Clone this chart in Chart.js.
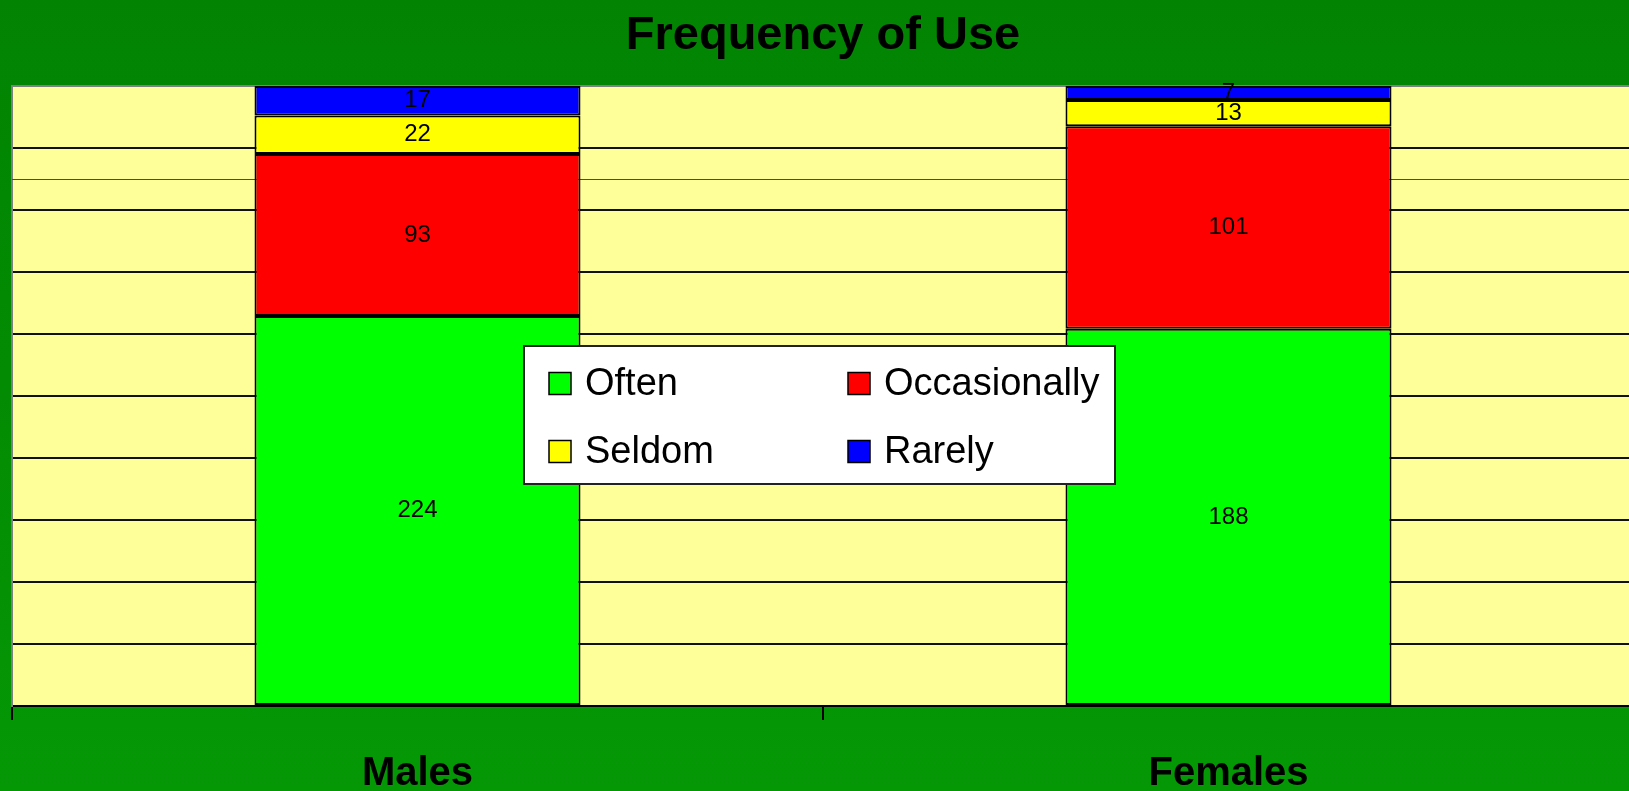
<!DOCTYPE html>
<html>
<head>
<meta charset="utf-8">
<script src="https://cdn.jsdelivr.net/npm/chart.js@4"></script>
<style>
  html, body { margin: 0; padding: 0; overflow: hidden; width: 1629px; height: 791px; }
  body { background: linear-gradient(to bottom, rgb(2,132,2) 0%, rgb(3,140,3) 50%, rgb(5,152,5) 100%); }
  #wrap { width: 1646px; height: 791px; position: relative; }
  canvas { display: block; }
</style>
</head>
<body>
<div id="wrap"><canvas id="c" width="1646" height="791"></canvas></div>
<script>
const categories = ['Males', 'Females'];
const seriesNames = ['Often', 'Occasionally', 'Seldom', 'Rarely'];
const often = [224, 188];
const occasionally = [93, 101];
const seldom = [22, 13];
const rarely = [17, 7];
const yTicks = [0, 10, 20, 30, 40, 50, 60, 70, 80, 90, 100];

const counts = [often, occasionally, seldom, rarely];
const colors = ['#00FF00', '#FF0000', '#FFFF00', '#0000FF'];
const totals = categories.map((_, j) => counts.reduce((s, arr) => s + arr[j], 0));
const pct = arr => arr.map((v, j) => v / totals[j] * 100);

const FONT = "'Liberation Sans', Arial, Helvetica, sans-serif";

const plotBg = {
  id: 'plotBg',
  beforeDraw(chart) {
    const {ctx, chartArea: a} = chart;
    ctx.save();
    ctx.fillStyle = '#FFFF99';
    ctx.fillRect(a.left, a.top, a.right - a.left, a.bottom - a.top);
    ctx.restore();
  },
  beforeDatasetsDraw(chart) {
    const {ctx, chartArea: a, scales} = chart;
    const y = Math.round(scales.y.getPixelForValue(85)) + 0.5;
    ctx.save();
    ctx.strokeStyle = '#008000';
    ctx.lineWidth = 1;
    ctx.beginPath();
    ctx.moveTo(a.left, y);
    ctx.lineTo(a.right, y);
    ctx.stroke();
    ctx.restore();
  }
};

const valueLabels = {
  id: 'valueLabels',
  afterDatasetsDraw(chart) {
    const {ctx} = chart;
    ctx.save();
    ctx.font = '24px ' + FONT;
    ctx.fillStyle = '#000';
    ctx.textAlign = 'center';
    ctx.textBaseline = 'middle';
    chart.data.datasets.forEach((ds, i) => {
      const meta = chart.getDatasetMeta(i);
      meta.data.forEach((bar, j) => {
        const p = bar.getCenterPoint();
        ctx.fillText(String(ds.raw[j]), p.x, p.y);
      });
    });
    ctx.restore();
  }
};

const boxLegend = {
  id: 'boxLegend',
  afterDraw(chart) {
    const {ctx} = chart;
    const bx = 524, by = 346, bw = 591, bh = 138;
    ctx.save();
    ctx.fillStyle = '#FFFFFF';
    ctx.fillRect(bx, by, bw, bh);
    ctx.strokeStyle = '#222';
    ctx.lineWidth = 2;
    ctx.strokeRect(bx, by, bw, bh);
    const cols = [549, 848];
    const rows = [383.5, 451.5];
    chart.data.datasets.forEach((ds, i) => {
      const cx = cols[i % 2];
      const cy = rows[Math.floor(i / 2)];
      ctx.fillStyle = ds.backgroundColor;
      ctx.fillRect(cx, cy - 11, 22, 22);
      ctx.strokeStyle = '#000';
      ctx.lineWidth = 1.5;
      ctx.strokeRect(cx, cy - 11, 22, 22);
      ctx.font = '38px ' + FONT;
      ctx.fillStyle = '#000';
      ctx.textAlign = 'left';
      ctx.textBaseline = 'middle';
      ctx.fillText(ds.label, cx + 36, cy + 1);
    });
    ctx.restore();
  }
};

new Chart(document.getElementById('c'), {
  type: 'bar',
  data: {
    labels: categories,
    datasets: seriesNames.map((name, i) => ({
      label: name,
      data: pct(counts[i]),
      raw: counts[i],
      backgroundColor: colors[i],
      borderColor: '#000',
      borderWidth: 2,
      borderSkipped: false,
      categoryPercentage: 1.0,
      barPercentage: 0.402
    }))
  },
  options: {
    responsive: false,
    animation: false,
    devicePixelRatio: 1,
    layout: { padding: { left: 12, right: 12, top: 0, bottom: 0 } },
    plugins: {
      legend: { display: false },
      tooltip: { enabled: false },
      title: {
        display: true,
        text: 'Frequency of Use',
        color: '#000',
        font: { family: FONT, size: 47, weight: 'bold', lineHeight: 1 },
        padding: { top: 12.5, bottom: 26.5 }
      }
    },
    scales: {
      x: {
        stacked: true,
        grid: { offset: true, drawOnChartArea: false, drawTicks: true, tickLength: 14, color: '#000', lineWidth: 2 },
        border: { color: '#000', width: 2 },
        ticks: { color: '#000', font: { family: FONT, size: 40, weight: 'bold', lineHeight: 1.2 }, padding: 30, maxRotation: 0 },
        afterFit(s) { s.height = 85; }
      },
      y: {
        stacked: true,
        min: 0,
        max: 100,
        afterBuildTicks(s) { s.ticks = yTicks.map(v => ({ value: v })); },
        ticks: { display: false },
        grid: {
          drawTicks: false,
          color: ctx => (ctx.tick && ctx.tick.value === 100) ? '#808080' : '#111',
          lineWidth: 2
        },
        border: { color: '#808080', width: 2 },
        afterFit(s) { s.width = 0; }
      }
    }
  },
  plugins: [plotBg, valueLabels, boxLegend]
});
</script>
</body>
</html>
